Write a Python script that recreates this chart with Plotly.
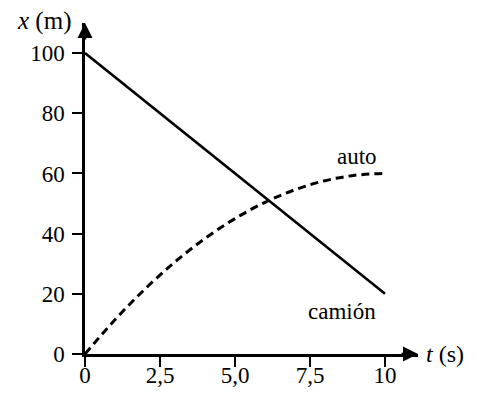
import plotly.graph_objects as go

# Posición del camión (recta) y del auto (curva) en función del tiempo
t_camion = [0, 10]
x_camion = [100, 20]

t_auto = [0, 1, 2, 3, 4, 5, 6, 7, 8, 9, 10]
x_auto = [0, 11.4, 21.6, 30.6, 38.4, 45.0, 50.4, 54.6, 57.6, 59.4, 60.0]

t_ticks = [0, 2.5, 5, 7.5, 10]
t_labels = ["0", "2,5", "5,0", "7,5", "10"]
x_ticks = [0, 20, 40, 60, 80, 100]
x_labels = ["0", "20", "40", "60", "80", "100"]

FONT = "Liberation Serif"
T_MAX = 11.1
X_MAX = 110

fig = go.Figure()
fig.add_trace(go.Scatter(x=t_camion, y=x_camion, mode="lines",
                         line=dict(color="black", width=2.5), showlegend=False))
fig.add_trace(go.Scatter(x=t_auto, y=x_auto, mode="lines",
                         line=dict(color="black", width=3, dash="8px,5px", shape="spline"),
                         showlegend=False))

axis_common = dict(showgrid=False, zeroline=False, showline=True, linecolor="black",
                   linewidth=2.5, ticks="outside", ticklen=10, tickwidth=2,
                   tickcolor="black", automargin=False,
                   tickfont=dict(family=FONT, size=23, color="black"))

fig.update_xaxes(range=[0, T_MAX], tickvals=t_ticks, ticktext=t_labels,
                 ticklabelstandoff=-11, **axis_common)
fig.update_yaxes(range=[0, X_MAX], tickvals=x_ticks, ticktext=x_labels,
                 ticklabelstandoff=3, **axis_common)

annotations = [
    # puntas de flecha de los ejes
    dict(x=T_MAX, y=0, ax=T_MAX - 0.6, ay=0, xref="x", yref="y", axref="x", ayref="y",
         showarrow=True, arrowhead=2, arrowsize=1.2, arrowwidth=2.5, arrowcolor="black", text=""),
    dict(x=0, y=X_MAX, ax=0, ay=X_MAX - 6, xref="x", yref="y", axref="x", ayref="y",
         showarrow=True, arrowhead=2, arrowsize=1.2, arrowwidth=2.5, arrowcolor="black", text=""),
    # títulos de los ejes
    dict(x=T_MAX, y=0, xref="x", yref="y", xanchor="left", yanchor="middle", xshift=6,
         text="<i>t</i> (s)", showarrow=False, font=dict(family=FONT, size=24, color="black")),
    dict(x=0, y=X_MAX, xref="x", yref="y", xanchor="right", yanchor="middle", xshift=-12,
         yshift=2, text="<i>x</i> (m)", showarrow=False,
         font=dict(family=FONT, size=25, color="black")),
    # etiquetas de las curvas
    dict(x=9.05, y=65.5, xref="x", yref="y", text="auto", showarrow=False,
         font=dict(family=FONT, size=23, color="black")),
    dict(x=8.55, y=14, xref="x", yref="y", text="camión", showarrow=False,
         font=dict(family=FONT, size=23, color="black")),
]

fig.update_layout(
    width=478, height=394,
    margin=dict(l=85, r=60, t=23, b=40, autoexpand=False),
    paper_bgcolor="white", plot_bgcolor="white",
    font=dict(family=FONT, color="black"),
    annotations=annotations,
)

fig.write_html("out.html")
